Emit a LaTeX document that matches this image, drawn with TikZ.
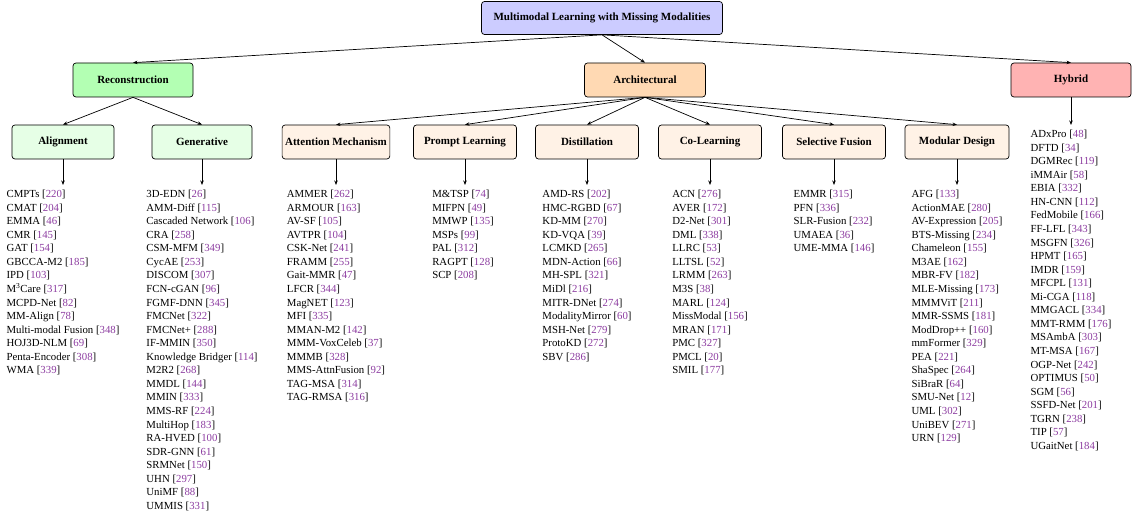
\documentclass[tikz,border=0pt]{standalone}
\usepackage{fontspec}
\setmainfont{Liberation Serif}
\usetikzlibrary{arrows.meta}
\definecolor{citec}{RGB}{140,60,160}
\definecolor{rootc}{RGB}{204,204,255}
\definecolor{recc}{RGB}{179,255,179}
\definecolor{archc}{RGB}{255,217,179}
\definecolor{hybc}{RGB}{255,179,179}
\definecolor{recsub}{RGB}{230,255,230}
\definecolor{archsub}{RGB}{255,242,230}
\newcommand{\rf}[1]{[\textcolor{citec}{#1}]}
\begin{document}
\begin{tikzpicture}[x=1pt,y=-1pt,
  box/.style={draw=black, rounded corners=3pt, line width=0.7pt, align=center,
    font=\bfseries\fontsize{11}{13}\selectfont, minimum height=34pt, inner xsep=3pt},
  lst/.style={anchor=north, align=left, inner xsep=0pt, inner ysep=5pt,
    font=\fontsize{10.8}{13.55}\selectfont},
  conn/.style={-{Stealth[length=4.5pt,width=3.5pt]}, line width=0.7pt}]
\useasboundingbox (0,0) rectangle (1133,518);

\node[box, fill=rootc, minimum width=241pt, minimum height=33pt] (root) at (602,18) {Multimodal Learning with Missing Modalities};
\node[box, fill=recc, minimum width=120pt] (rec) at (133,80) {Reconstruction};
\node[box, fill=archc, minimum width=121pt] (arch) at (645,80) {Architectural};
\node[box, fill=hybc, minimum width=120pt] (hyb) at (1071,80) {Hybrid};

\node[box, fill=recsub, minimum width=102pt] (ali) at (63,142) {Alignment};
\node[box, fill=recsub, minimum width=100pt] (gen) at (202,142) {Generative};
\node[box, fill=archsub, minimum width=103pt] (att) at (336,142) {Attention Mechanism};
\node[box, fill=archsub, minimum width=103pt] (pro) at (465,142) {Prompt Learning};
\node[box, fill=archsub, minimum width=103pt] (dis) at (587,142) {Distillation};
\node[box, fill=archsub, minimum width=103pt] (col) at (710,142) {Co-Learning};
\node[box, fill=archsub, minimum width=103pt] (sel) at (834,142) {Selective Fusion};
\node[box, fill=archsub, minimum width=104pt] (mod) at (957,142) {Modular Design};

\draw[conn] (root.south) -- (rec.north);
\draw[conn] (root.south) -- (arch.north);
\draw[conn] (root.south) -- (hyb.north);
\draw[conn] (rec.south) -- (ali.north);
\draw[conn] (rec.south) -- (gen.north);
\foreach \t in {att,pro,dis,col,sel,mod}{\draw[conn] (arch.south) -- (\t.north);}

\node[lst] (lali) at (63,185) {CMPTs \rf{220}\\CMAT \rf{204}\\EMMA \rf{46}\\CMR \rf{145}\\GAT \rf{154}\\GBCCA-M2 \rf{185}\\IPD \rf{103}\\M\textsuperscript{3}Care \rf{317}\\MCPD-Net \rf{82}\\MM-Align \rf{78}\\Multi-modal Fusion \rf{348}\\HOJ3D-NLM \rf{69}\\Penta-Encoder \rf{308}\\WMA \rf{339}};

\node[lst] (lgen) at (202,185) {3D-EDN \rf{26}\\AMM-Diff \rf{115}\\Cascaded Network \rf{106}\\CRA \rf{258}\\CSM-MFM \rf{349}\\CycAE \rf{253}\\DISCOM \rf{307}\\FCN-cGAN \rf{96}\\FGMF-DNN \rf{345}\\FMCNet \rf{322}\\FMCNet+ \rf{288}\\IF-MMIN \rf{350}\\Knowledge Bridger \rf{114}\\M2R2 \rf{268}\\MMDL \rf{144}\\MMIN \rf{333}\\MMS-RF \rf{224}\\MultiHop \rf{183}\\RA-HVED \rf{100}\\SDR-GNN \rf{61}\\SRMNet \rf{150}\\UHN \rf{297}\\UniMF \rf{88}\\UMMIS \rf{331}};

\node[lst] (latt) at (336,185) {AMMER \rf{262}\\ARMOUR \rf{163}\\AV-SF \rf{105}\\AVTPR \rf{104}\\CSK-Net \rf{241}\\FRAMM \rf{255}\\Gait-MMR \rf{47}\\LFCR \rf{344}\\MagNET \rf{123}\\MFI \rf{335}\\MMAN-M2 \rf{142}\\MMM-VoxCeleb \rf{37}\\MMMB \rf{328}\\MMS-AttnFusion \rf{92}\\TAG-MSA \rf{314}\\TAG-RMSA \rf{316}};

\node[lst] (lpro) at (463,185) {M\&TSP \rf{74}\\MIFPN \rf{49}\\MMWP \rf{135}\\MSPs \rf{99}\\PAL \rf{312}\\RAGPT \rf{128}\\SCP \rf{208}};

\node[lst] (ldis) at (587,185) {AMD-RS \rf{202}\\HMC-RGBD \rf{67}\\KD-MM \rf{270}\\KD-VQA \rf{39}\\LCMKD \rf{265}\\MDN-Action \rf{66}\\MH-SPL \rf{321}\\MiDl \rf{216}\\MITR-DNet \rf{274}\\ModalityMirror \rf{60}\\MSH-Net \rf{279}\\ProtoKD \rf{272}\\SBV \rf{286}};

\node[lst] (lcol) at (710,185) {ACN \rf{276}\\AVER \rf{172}\\D2-Net \rf{301}\\DML \rf{338}\\LLRC \rf{53}\\LLTSL \rf{52}\\LRMM \rf{263}\\M3S \rf{38}\\MARL \rf{124}\\MissModal \rf{156}\\MRAN \rf{171}\\PMC \rf{327}\\PMCL \rf{20}\\SMIL \rf{177}};

\node[lst] (lsel) at (834,185) {EMMR \rf{315}\\PFN \rf{336}\\SLR-Fusion \rf{232}\\UMAEA \rf{36}\\UME-MMA \rf{146}};

\node[lst] (lmod) at (957,185) {AFG \rf{133}\\ActionMAE \rf{280}\\AV-Expression \rf{205}\\BTS-Missing \rf{234}\\Chameleon \rf{155}\\M3AE \rf{162}\\MBR-FV \rf{182}\\MLE-Missing \rf{173}\\MMMViT \rf{211}\\MMR-SSMS \rf{181}\\ModDrop++ \rf{160}\\mmFormer \rf{329}\\PEA \rf{221}\\ShaSpec \rf{264}\\SiBraR \rf{64}\\SMU-Net \rf{12}\\UML \rf{302}\\UniBEV \rf{271}\\URN \rf{129}};

\node[lst] (lhyb) at (1071,125) {ADxPro \rf{48}\\DFTD \rf{34}\\DGMRec \rf{119}\\iMMAir \rf{58}\\EBIA \rf{332}\\HN-CNN \rf{112}\\FedMobile \rf{166}\\FF-LFL \rf{343}\\MSGFN \rf{326}\\HPMT \rf{165}\\IMDR \rf{159}\\MFCPL \rf{131}\\Mi-CGA \rf{118}\\MMGACL \rf{334}\\MMT-RMM \rf{176}\\MSAmbA \rf{303}\\MT-MSA \rf{167}\\OGP-Net \rf{242}\\OPTIMUS \rf{50}\\SGM \rf{56}\\SSFD-Net \rf{201}\\TGRN \rf{238}\\TIP \rf{57}\\UGaitNet \rf{184}};

\draw[conn] (ali.south) -- (lali.north);
\draw[conn] (gen.south) -- (lgen.north);
\draw[conn] (att.south) -- (latt.north);
\draw[conn] (pro.south) -- (pro.south |- lpro.north);
\draw[conn] (dis.south) -- (ldis.north);
\draw[conn] (col.south) -- (lcol.north);
\draw[conn] (sel.south) -- (lsel.north);
\draw[conn] (mod.south) -- (lmod.north);
\draw[conn] (hyb.south) -- (lhyb.north);
\end{tikzpicture}
\end{document}
